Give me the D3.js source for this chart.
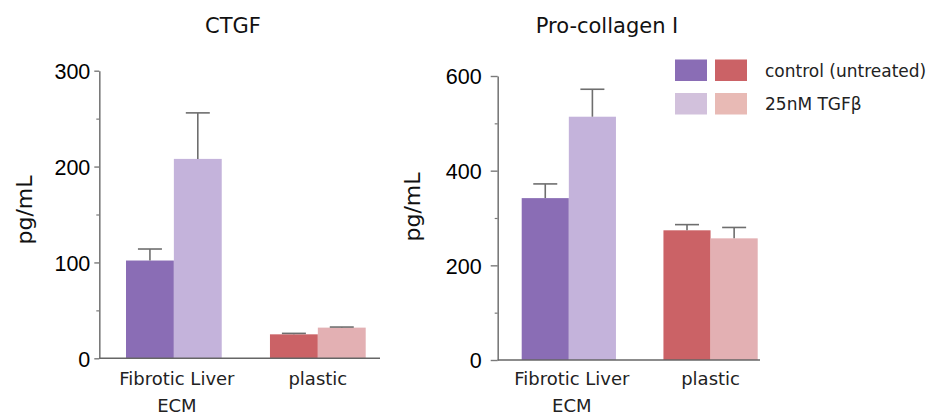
<!DOCTYPE html>
<html>
<head>
<meta charset="utf-8">
<script src="https://cdn.jsdelivr.net/npm/d3@7"></script>
<style>
  body { margin: 0; background: #fff; }
  svg { display: block; font-family: "DejaVu Sans", sans-serif; }
</style>
</head>
<body>
<div id="chart"></div>
<script>
const groups = ["Fibrotic Liver ECM", "plastic"];
const treatments = ["control (untreated)", "25nM TGFβ"];

// values [group][treatment]
const ctgfMeans = [[102, 208], [25, 32]];
const ctgfErrTop = [[114, 256], [26, 32.6]];
const collagenMeans = [[342, 514], [274, 257]];
const collagenErrTop = [[372, 572], [286, 280]];

const ctgfTicks = [0, 100, 200, 300];
const ctgfMinor = [50, 150, 250];
const collagenTicks = [0, 200, 400, 600];
const collagenMinor = [100, 300, 500];

// colours [group][treatment]
const barColors = [["#8a6db5", "#c4b3db"], ["#cb6266", "#e3b0b3"]];
const legendColors = [["#8a6db5", "#d2c1dc"], ["#cb6266", "#e8bab5"]];

const svg = d3.select("#chart").append("svg")
    .attr("width", 934)
    .attr("height", 416);

function panel(cfg) {
    const y = d3.scaleLinear().domain([0, cfg.max]).range([cfg.y0, cfg.y1]);
    const x = d3.scaleBand().domain(groups).range([cfg.bx0, cfg.bx1]).paddingInner(0.335);
    const xs = d3.scaleBand().domain(treatments).range([0, x.bandwidth()]);

    const g = svg.append("g");

    // bars + error bars
    groups.forEach((grp, gi) => {
        treatments.forEach((t, ti) => {
            const bx = x(grp) + xs(t);
            g.append("rect")
                .attr("x", bx)
                .attr("y", y(cfg.means[gi][ti]))
                .attr("width", xs.bandwidth())
                .attr("height", y(0) - y(cfg.means[gi][ti]))
                .attr("fill", barColors[gi][ti]);

            const cx = bx + xs.bandwidth() / 2;
            g.append("line")
                .attr("x1", cx).attr("x2", cx)
                .attr("y1", y(cfg.means[gi][ti]))
                .attr("y2", y(cfg.errTop[gi][ti]))
                .attr("stroke", "#6e6e6e").attr("stroke-width", 1.6);
            g.append("line")
                .attr("x1", cx - 12).attr("x2", cx + 12)
                .attr("y1", y(cfg.errTop[gi][ti]))
                .attr("y2", y(cfg.errTop[gi][ti]))
                .attr("stroke", "#6e6e6e").attr("stroke-width", 1.6);
        });
    });

    // y axis
    const yAxis = g.append("g")
        .attr("transform", `translate(${cfg.ax0},0)`)
        .call(d3.axisLeft(y).tickValues(cfg.ticks).tickSize(cfg.tickLen)
            .tickPadding(cfg.tickPad).tickSizeOuter(0));
    yAxis.select(".domain").attr("stroke", "#7a7a7a").attr("stroke-width", 1.6);
    yAxis.selectAll(".tick line").attr("stroke", "#7a7a7a").attr("stroke-width", 1.4);
    yAxis.selectAll("text").attr("font-size", 21.5).attr("fill", "#000").attr("dy", "0.36em");

    const yMinor = g.append("g")
        .attr("transform", `translate(${cfg.ax0},0)`)
        .call(d3.axisLeft(y).tickValues(cfg.minor).tickSize(3).tickFormat(""));
    yMinor.select(".domain").remove();
    yMinor.selectAll(".tick line").attr("stroke", "#7a7a7a").attr("stroke-width", 1.2);

    // x axis line
    g.append("line")
        .attr("x1", cfg.ax0).attr("x2", cfg.ax1)
        .attr("y1", y(0)).attr("y2", y(0))
        .attr("stroke", "#666").attr("stroke-width", 1.6);

    // category labels
    const labelLines = [["Fibrotic Liver", "ECM"], ["plastic"]];
    groups.forEach((grp, gi) => {
        const lx = x(grp) + x.bandwidth() / 2 + (gi === 0 ? 3 : 0);
        const t = g.append("text")
            .attr("x", lx)
            .attr("y", 385)
            .attr("text-anchor", "middle")
            .attr("font-size", 18)
            .attr("fill", "#222");
        labelLines[gi].forEach((ln, li) => {
            t.append("tspan")
                .attr("x", lx)
                .attr("dy", li === 0 ? 0 : 27)
                .text(ln);
        });
    });

    // title
    g.append("text")
        .attr("x", cfg.titleX).attr("y", 33)
        .attr("text-anchor", "middle")
        .attr("font-size", 21)
        .attr("fill", "#111")
        .text(cfg.title);

    // y label
    g.append("text")
        .attr("transform", `translate(${cfg.labelX},${cfg.labelY}) rotate(-90)`)
        .attr("text-anchor", "middle")
        .attr("font-size", 22)
        .attr("fill", "#111")
        .text("pg/mL");
}

panel({
    title: "CTGF", titleX: 233,
    means: ctgfMeans, errTop: ctgfErrTop,
    max: 300, ticks: ctgfTicks, minor: ctgfMinor,
    y0: 358.3, y1: 70.7,
    bx0: 126, bx1: 365.7,
    ax0: 99.3, ax1: 380,
    tickLen: 5, tickPad: 4,
    labelX: 32, labelY: 210
});

panel({
    title: "Pro-collagen I", titleX: 607,
    means: collagenMeans, errTop: collagenErrTop,
    max: 600, ticks: collagenTicks, minor: collagenMinor,
    y0: 360, y1: 76,
    bx0: 521.7, bx1: 757.7,
    ax0: 497.7, ax1: 760,
    tickLen: 7, tickPad: 9,
    labelX: 420, labelY: 207
});

// legend
const legend = svg.append("g");
treatments.forEach((t, ti) => {
    const ly = 59.5 + ti * 33.5;
    [0, 1].forEach(gi => {
        legend.append("rect")
            .attr("x", 675 + gi * 40)
            .attr("y", ly)
            .attr("width", 32)
            .attr("height", 21.5)
            .attr("fill", legendColors[gi][ti]);
    });
    legend.append("text")
        .attr("x", 765)
        .attr("y", ly + 17)
        .attr("font-size", 17)
        .attr("fill", "#222")
        .text(t);
});
</script>
</body>
</html>
